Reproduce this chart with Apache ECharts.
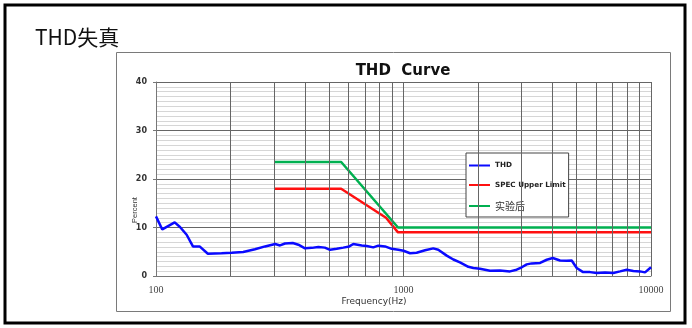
<!DOCTYPE html>
<html>
<head>
<meta charset="utf-8">
<script src="https://cdn.jsdelivr.net/npm/echarts@6/dist/echarts.min.js"></script>
<style>
  html, body { margin: 0; padding: 0; background: #fff; }
  #chart { width: 692px; height: 328px; }
</style>
</head>
<body>
<div id="chart"></div>
<script>
// THD measurement: frequency (Hz) and distortion (%)
const thdFreq = [100, 106, 119, 125, 133, 141, 150, 162, 184, 202, 225, 251, 276, 303, 317, 332, 357, 376, 400, 426,
  453, 481, 505, 537, 571, 604, 627, 678, 710, 755, 791, 842, 896, 953, 1000, 1063, 1130, 1222, 1319, 1382,
  1495, 1590, 1691, 1828, 1915, 2037, 2236, 2453, 2693, 2865, 3004, 3147, 3297, 3564, 3791, 4009, 4290, 4563,
  4782, 5010, 5297, 5671, 6035, 6518, 7043, 7499, 7979, 8487, 9029, 9459, 10000];
const thdValues = [12.3, 9.6, 11.05, 10.1, 8.5, 6.1, 6.1, 4.6, 4.7, 4.8, 4.95, 5.5, 6.1, 6.6, 6.3, 6.7, 6.8, 6.45, 5.7, 5.8,
  6.0, 5.85, 5.4, 5.6, 5.85, 6.1, 6.6, 6.3, 6.2, 5.9, 6.25, 6.1, 5.6, 5.4, 5.2, 4.7, 4.8, 5.3, 5.7, 5.4,
  4.2, 3.4, 2.8, 1.9, 1.65, 1.5, 1.1, 1.15, 0.95, 1.3, 1.8, 2.4, 2.6, 2.7, 3.35, 3.7, 3.2, 3.15,
  3.2, 1.65, 0.85, 0.8, 0.62, 0.74, 0.62, 0.95, 1.3, 1.05, 0.95, 0.75, 1.8];

// Specification upper limit
const specFreq = [300, 560, 850, 950, 10000];
const specValues = [18, 18, 12, 9, 9];

// Limit after the experiment
const afterFreq = [300, 560, 950, 10000];
const afterValues = [23.5, 23.5, 10, 10];

// Intermediate log grid lines
const minorFreqs = [200, 300, 400, 500, 600, 700, 800, 900, 2000, 3000, 4000, 5000, 6000, 7000, 8000, 9000];

const seriesNames = ['THD', 'SPEC Upper Limit', '实验后'];
const yTicks = { min: 0, max: 40, interval: 10 };

const pairs = (xs, ys) => xs.map((x, i) => [x, ys[i]]);
const hasCJK = s => /[\u4e00-\u9fff]/.test(s);

const chart = echarts.init(document.getElementById('chart'), null, { renderer: 'canvas' });

chart.setOption({
  backgroundColor: '#ffffff',
  animation: false,
  title: {
    text: 'THD  Curve',
    left: 398,
    top: 59,
    textAlign: 'center',
    textStyle: { fontFamily: 'DejaVu Sans', fontWeight: 'bold', fontSize: 15, color: '#111' }
  },
  grid: { left: 156, right: 41, top: 82, bottom: 52, containLabel: false },
  legend: {
    data: seriesNames,
    orient: 'vertical',
    left: 466,
    top: 153,
    padding: [9, 3, 6, 3],
    itemGap: 12.5,
    itemWidth: 21,
    itemHeight: 2,
    icon: 'rect',
    backgroundColor: '#fff',
    borderColor: '#444',
    borderWidth: 1,
    formatter: name => hasCJK(name) ? '{cjk|' + name + '}' : '{lat|' + name + '}',
    textStyle: {
      fontFamily: 'DejaVu Sans', fontWeight: 'bold', fontSize: 7.2, color: '#222',
      rich: {
        lat: { fontFamily: 'DejaVu Sans', fontWeight: 'bold', fontSize: 7.2, color: '#222' },
        cjk: { fontFamily: 'Noto Sans CJK SC', fontWeight: 'normal', fontSize: 10, color: '#333' }
      }
    }
  },
  xAxis: {
    type: 'log',
    logBase: 10,
    min: 100,
    max: 10000,
    axisLine: { show: true, lineStyle: { color: '#777' } },
    axisTick: { show: false },
    axisLabel: {
      margin: 9,
      fontFamily: 'Liberation Serif',
      fontSize: 10,
      color: '#444',
      formatter: v => String(v)
    },
    splitLine: { show: true, lineStyle: { color: '#666', width: 1 } },
    minorTick: { show: false },
    minorSplitLine: { show: false }
  },
  yAxis: {
    type: 'value',
    min: yTicks.min,
    max: yTicks.max,
    interval: yTicks.interval,
    axisLine: { show: true, lineStyle: { color: '#777' } },
    axisTick: { show: true, length: 3, lineStyle: { color: '#777' } },
    axisLabel: {
      margin: 9,
      fontFamily: 'DejaVu Sans',
      fontWeight: 'bold',
      fontSize: 8,
      color: '#333'
    },
    splitLine: { show: true, lineStyle: { color: '#666', width: 1 } },
    minorTick: { show: false, splitNumber: 10 },
    minorSplitLine: { show: true, lineStyle: { color: '#d6d6d6', width: 1 } }
  },
  graphic: [
    { type: 'rect', silent: true, z: -10,
      shape: { x: 5, y: 5, width: 680, height: 318 },
      style: { fill: 'none', stroke: '#000', lineWidth: 3 } },
    { type: 'rect', silent: true, z: -10,
      shape: { x: 116.5, y: 52.5, width: 554, height: 259 },
      style: { fill: 'none', stroke: '#7a7a7a', lineWidth: 1 } },
    { type: 'text', silent: true,
      x: 35, y: 37,
      style: { text: 'THD失真', font: '21px "Noto Sans CJK SC"', fill: '#111', textVerticalAlign: 'middle' } },
    { type: 'text', silent: true,
      x: 374, y: 302,
      style: { text: 'Frequency(Hz)', font: '9px "DejaVu Sans"', fill: '#333', textAlign: 'center', textVerticalAlign: 'middle' } },
    { type: 'text', silent: true,
      x: 135, y: 210, rotation: Math.PI / 2,
      style: { text: 'Percent', font: '7.5px "Liberation Sans"', fill: '#333', textAlign: 'center', textVerticalAlign: 'middle' } }
  ],
  series: [
    {
      name: 'grid',
      type: 'line',
      data: [],
      silent: true,
      z: 1,
      markLine: {
        silent: true,
        symbol: 'none',
        label: { show: false },
        lineStyle: { color: '#666', width: 1, type: 'solid' },
        data: minorFreqs.map(f => ({ xAxis: f }))
      }
    },
    {
      name: seriesNames[0],
      type: 'line',
      z: 5,
      data: pairs(thdFreq, thdValues),
      showSymbol: false,
      lineStyle: { color: '#0a0aff', width: 2.5 },
      itemStyle: { color: '#0a0aff' }
    },
    {
      name: seriesNames[1],
      type: 'line',
      z: 4,
      data: pairs(specFreq, specValues),
      showSymbol: false,
      lineStyle: { color: '#ff1010', width: 2.5 },
      itemStyle: { color: '#ff1010' }
    },
    {
      name: seriesNames[2],
      type: 'line',
      z: 4,
      data: pairs(afterFreq, afterValues),
      showSymbol: false,
      lineStyle: { color: '#00b050', width: 2.5 },
      itemStyle: { color: '#00b050' }
    }
  ]
});
</script>
</body>
</html>
